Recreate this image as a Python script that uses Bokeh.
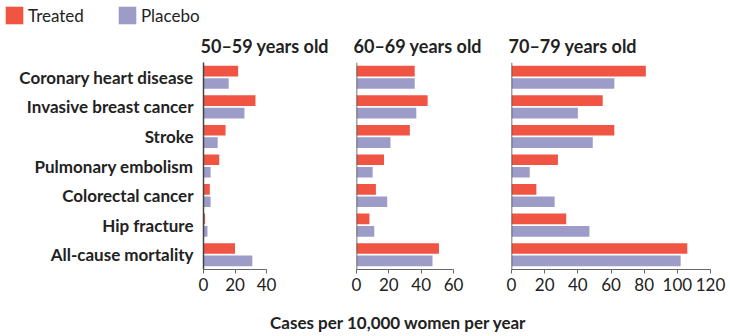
from bokeh.plotting import figure
from bokeh.models import (ColumnDataSource, FactorRange, Range1d, FixedTicker,
                          Legend, LegendItem, Label, Span)
from bokeh.layouts import row, column
from bokeh.transform import dodge
from bokeh.embed import file_html
from bokeh.resources import INLINE

categories = ["Coronary heart disease", "Invasive breast cancer", "Stroke",
              "Pulmonary embolism", "Colorectal cancer", "Hip fracture",
              "All-cause mortality"]
panel_titles = ["50\u201359 years old", "60\u201369 years old", "70\u201379 years old"]
treated_50 = [22, 33, 14, 10, 4, 1, 20]
placebo_50 = [16, 26, 9, 4.5, 4.5, 2.5, 31]
treated_60 = [36, 44, 33, 17, 12, 8, 51]
placebo_60 = [36, 37, 21, 10, 19, 11, 47]
treated_70 = [81, 55, 62, 28, 15, 33, 106]
placebo_70 = [62, 40, 49, 11, 26, 47, 102]
ticks_50 = [0, 20, 40]
ticks_60 = [0, 20, 40, 60]
ticks_70 = [0, 20, 40, 60, 80, 100, 120]
x_label = "Cases per 10,000 women per year"
series_names = ["Treated", "Placebo"]

RED = "#F05442"
PURPLE = "#9D9BC7"
TXT = "#222222"
FONT = "Lato"
TOP_H = 26

# legend strip (legend-only renderers, kept outside the visible range)
f0 = figure(width=730, height=TOP_H, output_backend="svg", toolbar_location=None,
            x_range=(0, 1), y_range=(0, 1), min_border=0)
f0.axis.visible = False
f0.grid.visible = False
f0.outline_line_color = None
key_src = ColumnDataSource(dict(y=[-10], right=[1]))
l1 = f0.hbar(y="y", right="right", height=1, source=key_src, fill_color=RED, line_color=None)
l2 = f0.hbar(y="y", right="right", height=1, source=key_src, fill_color=PURPLE, line_color=None)
legend = Legend(items=[LegendItem(label=series_names[0], renderers=[l1]),
                       LegendItem(label=series_names[1], renderers=[l2])],
                orientation="horizontal", location=(3, 0),
                glyph_width=22, glyph_height=22, label_standoff=3,
                spacing=32, padding=0, margin=0,
                border_line_color=None, background_fill_alpha=0,
                label_text_font=FONT, label_text_font_size="17px",
                label_text_color=TXT)
f0.add_layout(legend, "center")

panels = [
    (treated_50, placebo_50, ticks_50, 345, 203, 63),
    (treated_60, placebo_60, ticks_60, 145, 11, 97),
    (treated_70, placebo_70, ticks_70, 240, 21, 199),
]

figs = []
for i, (tr, pl, ticks, w, left, fw) in enumerate(panels):
    src = ColumnDataSource(dict(cat=categories, treated=tr, placebo=pl))
    p = figure(width=w, height=304 - TOP_H, output_backend="svg", toolbar_location=None,
               y_range=FactorRange(*categories[::-1]),
               x_range=Range1d(0, ticks[-1]),
               min_border_left=left, min_border_right=w - left - fw,
               min_border_top=59 - TOP_H, min_border_bottom=35,
               title=panel_titles[i])
    p.hbar(y=dodge("cat", 0.21, range=p.y_range), right="treated", left=0,
           height=0.36, source=src, fill_color=RED, line_color=None)
    p.hbar(y=dodge("cat", -0.21, range=p.y_range), right="placebo", left=0,
           height=0.36, source=src, fill_color=PURPLE, line_color=None)
    p.title.text_font = FONT
    p.title.text_font_size = "18px"
    p.title.text_font_style = "bold"
    p.title.text_color = TXT
    p.title.align = "left"
    p.title.offset = -3
    p.title.standoff = 12
    p.outline_line_color = None
    p.grid.visible = False
    p.xaxis.ticker = FixedTicker(ticks=ticks)
    p.xaxis.major_label_text_font = FONT
    p.xaxis.major_label_text_font_size = "17px"
    p.xaxis.major_label_text_color = TXT
    p.xaxis.axis_line_color = "#666666"
    p.xaxis.major_tick_line_color = "#666666"
    p.xaxis.major_tick_in = 0
    p.xaxis.major_tick_out = 4
    p.xaxis.minor_tick_line_color = None
    p.xaxis.major_label_standoff = 4
    if i == 0:
        p.yaxis.axis_line_color = "#444444"
        p.yaxis.axis_line_width = 1.5
        p.yaxis.major_tick_line_color = None
        p.yaxis.minor_tick_line_color = None
        p.yaxis.major_tick_out = 0
        p.yaxis.major_tick_in = 0
        p.yaxis.major_label_text_font = FONT
        p.yaxis.major_label_text_font_size = "17px"
        p.yaxis.major_label_text_font_style = "bold"
        p.yaxis.major_label_text_color = TXT
        p.yaxis.major_label_standoff = 10
    else:
        p.yaxis.visible = False
        p.add_layout(Span(location=0, dimension="height",
                          line_color="#444444", line_width=1.5))
    figs.append(p)

f4 = figure(width=730, height=32, output_backend="svg", toolbar_location=None,
            x_range=(0, 1), y_range=(0, 1), min_border=0)
f4.axis.visible = False
f4.grid.visible = False
f4.outline_line_color = None
f4.add_layout(Label(x=398, y=14, x_units="screen", y_units="screen", text=x_label,
                    text_align="center", text_baseline="middle",
                    text_font=FONT, text_font_size="17px", text_font_style="bold",
                    text_color=TXT))

layout = column(f0, row(*figs, spacing=0), f4, spacing=0)
open("out.html", "w").write(file_html(layout, INLINE))
